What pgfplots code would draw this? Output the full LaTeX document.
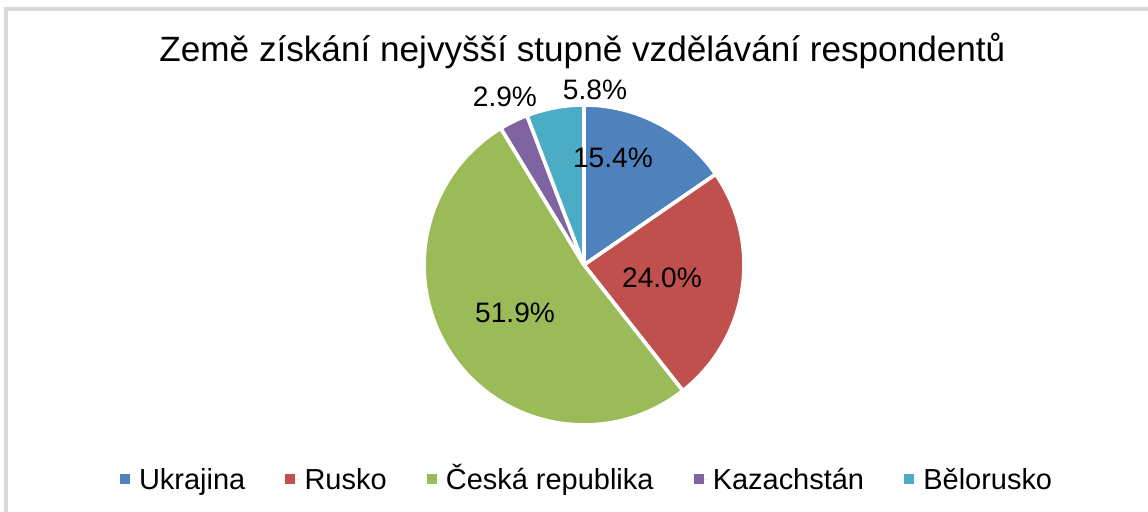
\documentclass[border=0pt]{standalone}
\usepackage{pgfplots}
\pgfplotsset{compat=1.18}
\usepackage{fontspec}
\setmainfont{Liberation Sans}
\definecolor{cUkr}{HTML}{4F81BD}
\definecolor{cRus}{HTML}{C0504D}
\definecolor{cCze}{HTML}{9BBB59}
\definecolor{cKaz}{HTML}{8064A2}
\definecolor{cBel}{HTML}{4BACC6}
\definecolor{frame}{HTML}{D9D9D9}
% slice: #1 cumulative percent before, #2 percent, #3 colour
\newcommand\slice[3]{%
  \fill[#3, draw=white, line width=1.3pt, line join=round]
    (axis cs:0,0) -- (axis cs:{cos(90-3.6*#1)},{sin(90-3.6*#1)})
    arc[start angle={90-3.6*(#1)}, end angle={90-3.6*(#1+#2)}, radius=2cm] -- cycle;}
\begin{document}
\begin{tikzpicture}
\begin{axis}[
  x=2cm, y=2cm,
  xmin=-3.65, xmax=3.525, ymin=-1.544, ymax=1.656,
  hide axis, clip=false,
  legend style={at={(axis cs:0.03,-1.34)}, anchor=center, draw=none,
    legend columns=5, font=\fontsize{10.3}{12}\selectfont,
    nodes={text height=1.9ex, text depth=0.5ex},
    /tikz/every even column/.append style={column sep=0.43cm},
    legend cell align=left, inner sep=0pt},
  legend image code/.code={\path[draw=none] (0,0) -- (0.17cm,0);\fill[#1, draw=none] (0,-0.0625cm) rectangle (0.125cm,0.0625cm);},
]
\draw[frame, line width=1.2pt] (axis cs:-3.6125,-1.6) -- (axis cs:-3.6125,1.6) -- (axis cs:3.6,1.6);
\addlegendimage{fill=cUkr}\addlegendentry{Ukrajina}
\addlegendimage{fill=cRus}\addlegendentry{Rusko}
\addlegendimage{fill=cCze}\addlegendentry{Česká republika}
\addlegendimage{fill=cKaz}\addlegendentry{Kazachstán}
\addlegendimage{fill=cBel}\addlegendentry{Bělorusko}
\slice{0}{15.4}{cUkr}
\slice{15.4}{24.0}{cRus}
\slice{39.4}{51.9}{cCze}
\slice{91.3}{2.9}{cKaz}
\slice{94.2}{5.8}{cBel}
\node[font=\fontsize{12.5}{15}\selectfont] at (axis cs:-0.01,1.34) {Země získání nejvyšší stupně vzdělávání respondentů};
\begin{scope}[every node/.style={font=\fontsize{10}{12}\selectfont}]
\node at (axis cs:0.181,0.669) {15.4\%};
\node at (axis cs:0.4875,-0.081) {24.0\%};
\node at (axis cs:-0.431,-0.30) {51.9\%};
\node at (axis cs:-0.494,1.05) {2.9\%};
\node at (axis cs:0.069,1.094) {5.8\%};
\end{scope}
\end{axis}
\pgfresetboundingbox
\useasboundingbox (current axis.south west) rectangle (current axis.north east);
\end{tikzpicture}
\end{document}
